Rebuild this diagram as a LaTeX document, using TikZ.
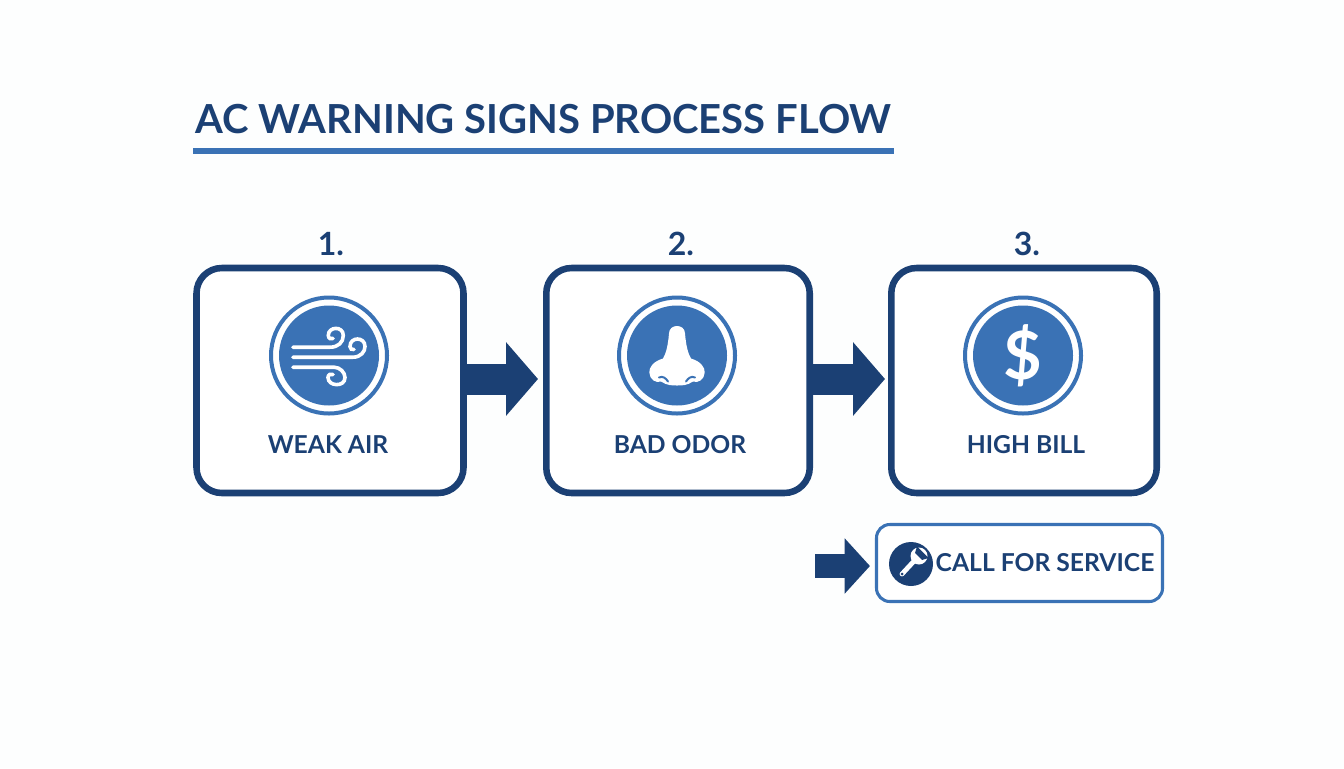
\documentclass[tikz,border=0pt]{standalone}
\usepackage{fontspec}
\setmainfont{Lato}
\usetikzlibrary{arrows.meta}
\definecolor{navy}{HTML}{1B4074}
\definecolor{midblue}{HTML}{3A72B5}
\definecolor{pagebg}{HTML}{FDFEFE}
\tikzset{
  titlelabel/.style={text=navy,font=\bfseries\fontsize{30pt}{30pt}\selectfont,inner sep=0pt},
  numlabel/.style={text=navy,font=\bfseries\fontsize{24pt}{24pt}\selectfont,inner sep=0pt},
  signlabel/.style={text=navy,font=\bfseries\fontsize{18.5pt}{20pt}\selectfont,inner sep=0pt},
  stepbox/.style={draw=navy,line width=4.9pt,rounded corners=19pt,fill=white,minimum height=168.75pt},
  servicebox/.style={draw=midblue,line width=2.3pt,rounded corners=10pt,fill=white,minimum width=214.5pt,minimum height=57.75pt},
  iconring/.style={circle,draw=midblue,line width=3pt,fill=white,minimum size=87pt,inner sep=0pt},
  icondisc/.style={circle,fill=midblue,minimum size=75pt,inner sep=0pt},
  wrenchdisc/.style={circle,fill=navy,minimum size=33pt,inner sep=0pt},
  flowarrow/.style={draw=navy,line width=23.25pt,-{Triangle[length=24pt,width=54pt]}},
  callarrow/.style={draw=navy,line width=18pt,-{Triangle[length=19pt,width=40.5pt]}},
  windline/.style={draw=white,line width=2.7pt,line cap=round}
}
\begin{document}
\begin{tikzpicture}[x=0.75pt,y=-0.75pt]
  \fill[pagebg] (0,0) rectangle (1344,768);
  \useasboundingbox (0,0) rectangle (1344,768);

  \draw (543.5,119) node[titlelabel] (title) {AC WARNING SIGNS PROCESS FLOW};
  \fill[midblue] (193,148) rectangle (894,153.5);

  \draw (330,380.5) node[stepbox,minimum width=200.25pt] (box1) {};
  \draw (678,380.5) node[stepbox,minimum width=197.6pt] (box2) {};
  \draw (1024,380.5) node[stepbox,minimum width=199.1pt] (box3) {};
  \draw (1019.5,563) node[servicebox] (service) {};

  \draw (331,244) node[numlabel] (num1) {1.};
  \draw (681,244) node[numlabel] (num2) {2.};
  \draw (1027,244) node[numlabel] (num3) {3.};

  \draw (329,355.5) node[iconring] (ring1) {};
  \draw (677,355.5) node[iconring] (ring2) {};
  \draw (1023,355.5) node[iconring] (ring3) {};
  \draw (ring1) node[icondisc] (disc1) {};
  \draw (ring2) node[icondisc] (disc2) {};
  \draw (ring3) node[icondisc] (disc3) {};

  \draw (328,445) node[signlabel] (sign1) {WEAK AIR};
  \draw (680,445) node[signlabel] (sign2) {BAD ODOR};
  \draw (1026,445) node[signlabel] (sign3) {HIGH BILL};
  \draw (1045,563) node[signlabel] (sign4) {CALL FOR SERVICE};

  \coordinate (flow1) at (467,379);
  \coordinate (flow2) at (813,379);
  \coordinate (callin) at (815,566);
  \draw[flowarrow,shorten >=3.75pt] (flow1) -- (flow1 -| box2.west);
  \draw[flowarrow,shorten >=2.25pt] (flow2) -- (flow2 -| box3.west);
  \draw[callarrow,shorten >=3.75pt] (callin) -- (callin -| service.west);

  \begin{scope}[shift={(329,355.5)}]
    \draw[windline] (-36,-8.3) -- (1,-8.3) .. controls (9,-8.3) and (14.3,-13) .. (14.3,-20)
      .. controls (14.3,-30) and (-1,-29) .. (-0.7,-20) .. controls (-0.5,-17) and (2,-16) .. (4,-17);
    \draw[windline] (-36,1.7) -- (24,1.7) .. controls (32,1.7) and (36,-4) .. (36,-9)
      .. controls (36,-19) and (21,-19) .. (21,-9) .. controls (21,-7) and (23,-5) .. (25,-6);
    \draw[windline] (-36,11.7) -- (5,11.7) .. controls (11,11.7) and (16,17) .. (16,22)
      .. controls (16,32) and (-1,31) .. (-1,22) .. controls (-1,19) and (2,18) .. (4,19);
  \end{scope}

  \begin{scope}[shift={(677,355.5)}]
    \fill[white] (-8,-22) .. controls (-8,-32) and (8,-32) .. (8,-22)
      .. controls (9,-10) and (11,-2) .. (14,3) .. controls (24,6) and (28,12) .. (27.7,17)
      .. controls (27.5,24) and (21,28) .. (16,26) .. controls (10,30) and (5,30) .. (0,30)
      .. controls (-5,30) and (-10,30) .. (-16,26) .. controls (-21,28) and (-27.5,24) .. (-27.7,17)
      .. controls (-28,12) and (-24,6) .. (-14,3) .. controls (-11,-2) and (-9,-10) .. (-8,-22) -- cycle;
    \draw[midblue,line width=1.5pt,line cap=round] (-18,22) .. controls (-14,20) and (-11,23) .. (-9,26);
    \draw[midblue,line width=1.5pt,line cap=round] (18,22) .. controls (14,20) and (11,23) .. (9,26);
  \end{scope}

  \draw (disc3) node[text=white,font=\bfseries\fontsize{50pt}{50pt}\selectfont,inner sep=0pt] (dollar) {\$};

  \draw (911,564) node[wrenchdisc] (wrench) {};
  \begin{scope}[shift={(911,564)}]
    \draw[white,line width=3.6pt,line cap=round] (-9,10) -- (4,-4);
    \fill[white] (8,-8) circle[radius=8.5];
    \fill[navy] (6,-17.5) -- (17.5,-6) -- (11,-4) -- (4,-11) -- cycle;
    \fill[navy] (-9,10) circle[radius=1.5];
  \end{scope}
\end{tikzpicture}
\end{document}
